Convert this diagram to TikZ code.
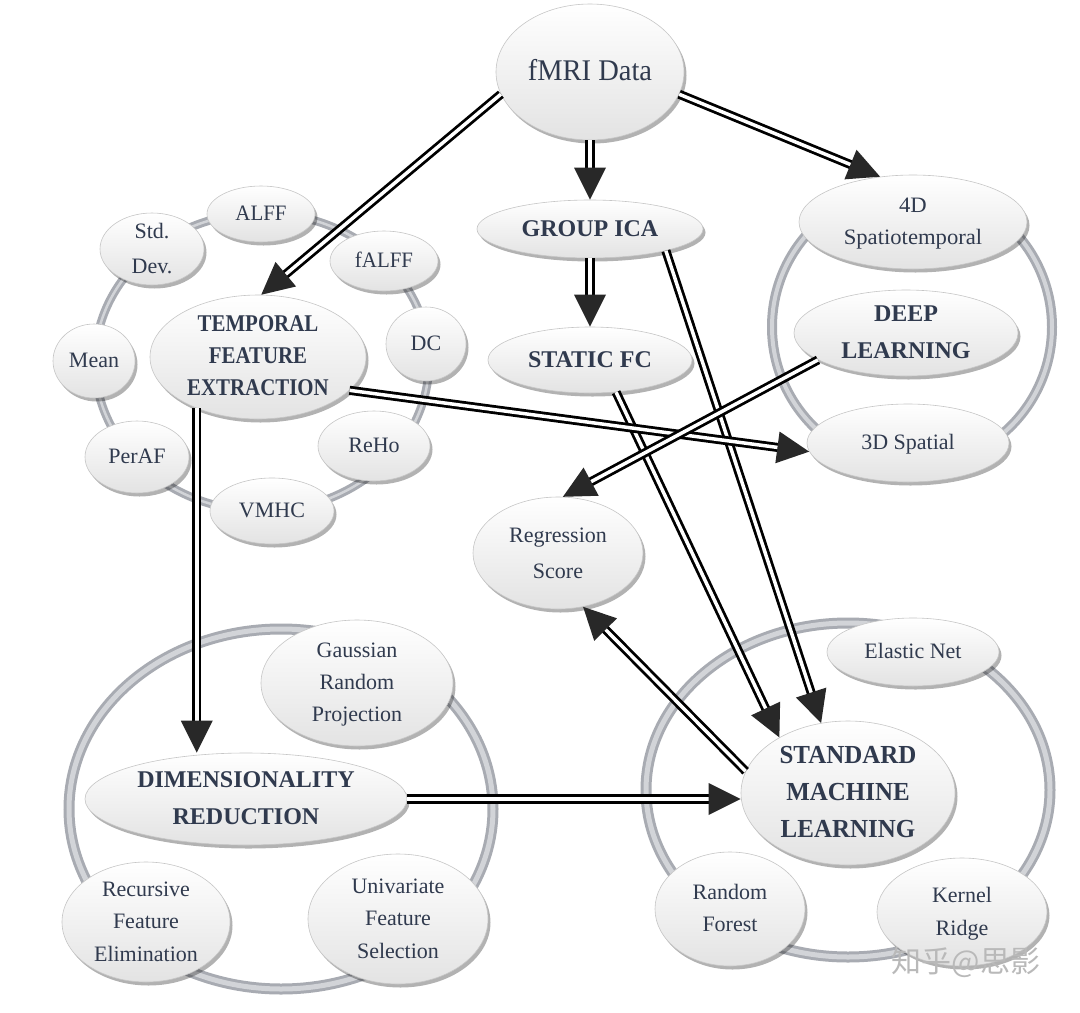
\documentclass[tikz,border=0pt]{standalone}
\usepackage{fontspec}
\setmainfont{Liberation Serif}
\newfontfamily\cjkfont{Noto Sans CJK SC}
\usetikzlibrary{shapes.geometric, shadows, decorations.markings}
\definecolor{TextColor}{RGB}{48,58,78}
\definecolor{RingColor}{RGB}{168,171,178}
\definecolor{RingLight}{RGB}{210,212,216}
\definecolor{TipColor}{RGB}{40,40,40}
% centred label, squeezed sideways
\newcommand{\lbl}[2][1]{\smash{\makebox[0pt]{\raisebox{-0.25em}{\scalebox{#1}[1]{\begin{tabular}{@{}c@{}}#2\end{tabular}}}}}}
\tikzset{
  bubble/.style={ellipse, draw=gray!45, line width=0.6pt, inner sep=0pt, top color=white, bottom color=gray!22, text=TextColor, drop shadow={shadow xshift=2.5pt, shadow yshift=-3.5pt, opacity=0.3, fill=black}},
  oval/.style 2 args={minimum width=2*#1pt, minimum height=2*#2pt},
  minor/.style={bubble, font=\fontsize{22}{33}\selectfont},
  major/.style={bubble, font=\fontsize{24}{37}\selectfont\bfseries},
  ring/.style={draw=RingColor, line width=3pt, double=RingLight, double distance=#1},
  ring/.default=3pt,
  dbl arrow/.style={draw=black, line width=2.8pt, double=white, double distance=3.5pt, shorten >=16pt,
    postaction={decorate, shorten >=0pt, decoration={markings, mark=at position 1 with {\fill[TipColor] (0pt,0pt) -- (-32pt,16pt) -- (-32pt,-16pt) -- cycle;}}}}
}
\begin{document}
\begin{tikzpicture}[x=1pt, y=-1pt]
\useasboundingbox (0,0) rectangle (1080,1013);
\fill[white] (0,0) rectangle (1080,1013);

% rings behind the groups
\draw[ring=2.5pt] (262,362) ellipse [x radius=167pt, y radius=149pt];
\draw[ring=4pt] (912,327) ellipse [x radius=140pt, y radius=140pt];
\draw[ring=5pt] (281,809) ellipse [x radius=212pt, y radius=180pt];
\draw[ring=5pt] (848,790) ellipse [x radius=202pt, y radius=167pt];

% centre column
\node[minor, oval={94}{68}, font=\fontsize{30}{36}\selectfont] (fmri) at (590,72) {\lbl[0.95]{fMRI Data}};
\node[major, oval={113}{29}] (groupica) at (590,229) {\lbl{GROUP ICA}};
\node[major, oval={102}{33}] (static) at (590,360) {\lbl{STATIC FC}};
\node[minor, oval={85}{56}, font=\fontsize{22}{36}\selectfont] (regression) at (558,553) {\lbl{Regression\\Score}};

% temporal features
\node[major, oval={108}{62}, font=\fontsize{24}{32}\selectfont\bfseries] (temporal) at (258,357) {\lbl[0.87]{TEMPORAL\\FEATURE\\EXTRACTION}};
\node[minor, oval={54}{28}] (alff) at (261,214) {\lbl[0.95]{ALFF}};
\node[minor, oval={52}{36}, font=\fontsize{22}{35}\selectfont] (stddev) at (152,249) {\lbl{Std.\\Dev.}};
\node[minor, oval={54}{30}] (falff) at (384,261) {\lbl[0.95]{fALFF}};
\node[minor, oval={40}{37}] (dc) at (426,344) {\lbl{DC}};
\node[minor, oval={41}{37}] (mean) at (94,361) {\lbl{Mean}};
\node[minor, oval={56}{35}] (reho) at (374,446) {\lbl{ReHo}};
\node[minor, oval={52}{36}] (peraf) at (137,457) {\lbl{PerAF}};
\node[minor, oval={62}{33}] (vmhc) at (272,511) {\lbl{VMHC}};

% deep learning
\node[minor, oval={114}{47}, font=\fontsize{22}{32}\selectfont] (spatiotemporal) at (913,222) {\lbl[1.03]{4D\\Spatiotemporal}};
\node[major, oval={112}{43}] (deep) at (906,333) {\lbl{DEEP\\LEARNING}};
\node[minor, oval={101}{39}] (spatial) at (908,443) {\lbl{3D Spatial}};

% dimensionality reduction
\node[minor, oval={96}{63}, font=\fontsize{22}{32}\selectfont] (gaussian) at (357,683) {\lbl{Gaussian\\Random\\Projection}};
\node[major, oval={161}{46}] (dim) at (246,799) {\lbl{DIMENSIONALITY\\REDUCTION}};
\node[minor, oval={84}{60}, font=\fontsize{22}{32.5}\selectfont] (recursive) at (146,922) {\lbl{Recursive\\Feature\\Elimination}};
\node[minor, oval={90}{65}, font=\fontsize{22}{32.5}\selectfont] (univariate) at (398,919) {\lbl{Univariate\\Feature\\Selection}};

% standard machine learning
\node[minor, oval={86}{34}] (elastic) at (913,652) {\lbl{Elastic Net}};
\node[major, oval={107}{72}, font=\fontsize{26}{37}\selectfont\bfseries] (sml) at (848,793) {\lbl[0.96]{STANDARD\\MACHINE\\LEARNING}};
\node[minor, oval={75}{57}, font=\fontsize{22}{32}\selectfont] (forest) at (730,909) {\lbl{Random\\Forest}};
\node[minor, oval={85}{54}] (kernel) at (962,912) {\lbl{Kernel\\Ridge}};

\node[text=gray!55, font=\cjkfont\fontsize{30}{30}\selectfont] (mark) at (966,962) {知乎@思影};

% arrows
\draw[dbl arrow] (fmri.194) -- (temporal.87);
\draw[dbl arrow] (fmri.south) -- (groupica.north);
\draw[dbl arrow] (fmri.-14) -- (spatiotemporal.126);
\draw[dbl arrow] (groupica.south) -- (static.north);
\draw[dbl arrow] (groupica.-16) -- (sml.111);
\draw[dbl arrow] (static.-51) -- (sml.141);
\draw[dbl arrow] (temporal.-20) -- (spatial.185);
\draw[dbl arrow] (deep.197) -- (regression.85);
\draw[dbl arrow] (temporal.220) -- (temporal.220 |- dim.north);
\draw[dbl arrow] (dim.east) -- (dim.east -| sml.west);
\draw[dbl arrow] (sml.168) -- (regression.-65);
\end{tikzpicture}
\end{document}
